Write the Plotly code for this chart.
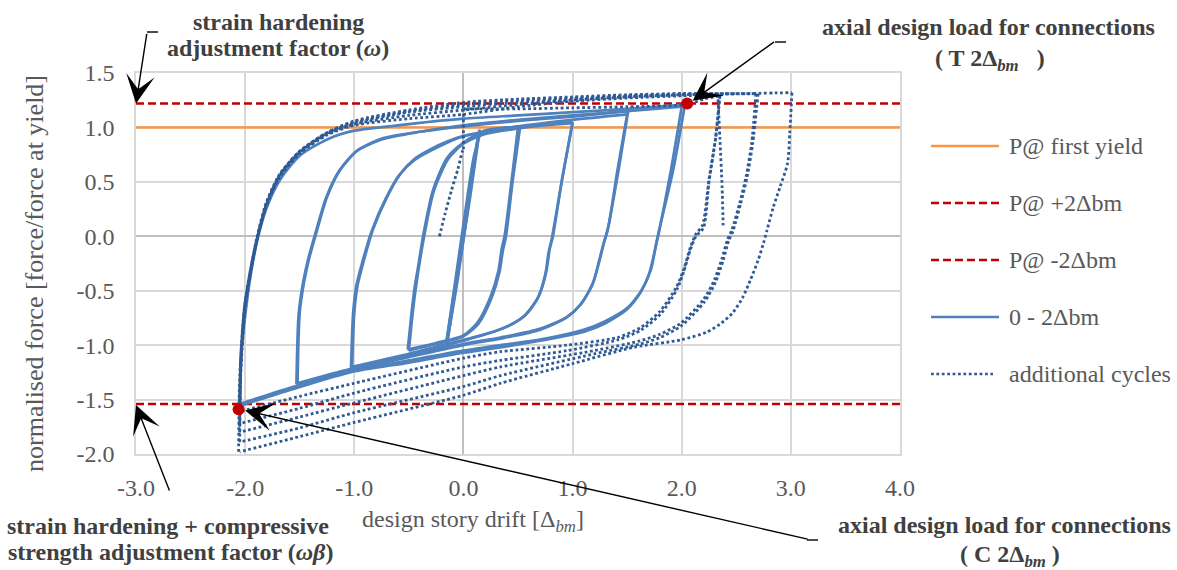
import plotly.graph_objects as go

# ---------------------------------------------------------------- axes
x_ticks = [-3.0, -2.0, -1.0, 0.0, 1.0, 2.0, 3.0, 4.0]
y_ticks = [-2.0, -1.5, -1.0, -0.5, 0.0, 0.5, 1.0, 1.5]

# ---------------------------------------------------------------- reference levels
first_yield = 1.0          # P @ first yield
p_plus_2bm = 1.22          # P @ +2Δbm  (strain hardening factor ω)
p_minus_2bm = -1.54        # P @ -2Δbm  (ωβ)
design_drift = [2.05, -2.06]
design_force = [1.22, -1.59]

# ---------------------------------------------------------------- 0 - 2Δbm protocol
# every branch is a list of (drift, normalised force) pairs in loading order
elastic_cycles = [
    [(0.0, 0.0), (0.07, 0.5), (0.15, 0.98)],
    [(0.15, 0.98), (0.06, 0.35), (-0.05, -0.35), (-0.15, -0.98)],
    [(-0.15, -0.98), (-0.05, -0.38), (0.05, 0.33), (0.14, 0.96)],
    [(0.14, 0.96), (0.04, 0.3), (-0.07, -0.42), (-0.16, -1.0)],
]
cycles_half = [
    [(-0.16, -1.0), (-0.08, -0.45), (0.02, 0.25), (0.1, 0.75), (0.17, 0.96), (0.3, 0.99), (0.42, 1.0), (0.5, 1.0)],
    [(0.5, 1.0), (0.44, 0.5), (0.38, 0.02), (0.35, -0.12), (0.32, -0.32), (0.25, -0.55), (0.13, -0.79),
     (0.0, -0.91), (-0.25, -0.98), (-0.51, -1.04)],
    [(-0.51, -1.04), (-0.48, -0.75), (-0.45, -0.49), (-0.41, -0.25), (-0.37, 0.0), (-0.28, 0.42), (-0.15, 0.72),
     (0.0, 0.86), (0.16, 0.95), (0.35, 0.99), (0.52, 1.01)],
    [(0.52, 1.01), (0.45, 0.5), (0.39, 0.0), (0.36, -0.14), (0.33, -0.33), (0.26, -0.56), (0.14, -0.8),
     (0.0, -0.92), (-0.25, -0.99), (-0.5, -1.05)],
]
cycles_one = [
    [(-0.5, -1.05), (-0.47, -0.75), (-0.44, -0.5), (-0.36, 0.0), (-0.27, 0.42), (-0.14, 0.71), (0.0, 0.85),
     (0.2, 0.94), (0.5, 0.99), (0.75, 1.02), (1.0, 1.04)],
    [(1.0, 1.04), (0.9, 0.5), (0.82, 0.0), (0.79, -0.12), (0.76, -0.32), (0.69, -0.55), (0.57, -0.72),
     (0.4, -0.83), (0.2, -0.9), (0.0, -0.95), (-0.5, -1.08), (-1.02, -1.2)],
    [(-1.02, -1.2), (-1.0, -0.7), (-0.97, -0.45), (-0.92, -0.25), (-0.83, 0.06), (-0.7, 0.36), (-0.58, 0.57),
     (-0.45, 0.71), (-0.3, 0.8), (-0.15, 0.87), (0.0, 0.92), (0.5, 1.0), (1.0, 1.05)],
    [(1.0, 1.05), (0.9, 0.5), (0.81, -0.02), (0.78, -0.15), (0.75, -0.35), (0.68, -0.57), (0.55, -0.74),
     (0.35, -0.85), (0.0, -0.96), (-0.5, -1.09), (-1.03, -1.21)],
]
cycles_one_half = [
    [(-1.03, -1.21), (-1.01, -0.7), (-0.98, -0.45), (-0.93, -0.25), (-0.84, 0.05), (-0.71, 0.35), (-0.59, 0.56),
     (-0.45, 0.7), (-0.15, 0.86), (0.0, 0.92), (0.5, 1.01), (1.0, 1.07), (1.5, 1.12)],
    [(1.5, 1.12), (1.41, 0.6), (1.33, 0.1), (1.29, -0.05), (1.26, -0.17), (1.19, -0.42), (1.08, -0.62),
     (0.95, -0.74), (0.7, -0.85), (0.34, -0.93), (0.0, -0.99), (-0.5, -1.1), (-1.04, -1.22), (-1.52, -1.35)],
    [(-1.52, -1.35), (-1.5, -0.7), (-1.46, -0.42), (-1.41, -0.19), (-1.34, 0.06), (-1.25, 0.36), (-1.13, 0.61),
     (-0.97, 0.79), (-0.74, 0.9), (-0.4, 0.96), (0.0, 1.01), (0.5, 1.06), (1.0, 1.1), (1.51, 1.15)],
    [(1.51, 1.15), (1.42, 0.6), (1.32, 0.05), (1.28, -0.08), (1.25, -0.2), (1.18, -0.45), (1.07, -0.63),
     (0.94, -0.75), (0.7, -0.86), (0.34, -0.94), (0.0, -1.0), (-0.5, -1.11), (-1.04, -1.23), (-1.53, -1.36)],
]
cycles_two = [
    [(-1.53, -1.36), (-1.51, -0.72), (-1.47, -0.43), (-1.42, -0.2), (-1.35, 0.05), (-1.26, 0.35), (-1.14, 0.6),
     (-0.98, 0.78), (-0.75, 0.89), (-0.4, 0.96), (0.0, 1.02), (0.5, 1.07), (1.0, 1.11), (1.5, 1.15), (2.0, 1.19)],
    [(2.0, 1.19), (1.9, 0.6), (1.79, 0.03), (1.76, -0.1), (1.72, -0.3), (1.63, -0.5), (1.5, -0.66), (1.3, -0.78),
     (1.1, -0.86), (0.7, -0.95), (0.34, -1.0), (0.0, -1.05), (-0.5, -1.14), (-1.04, -1.24), (-1.52, -1.37),
     (-2.05, -1.54)],
    [(-2.05, -1.54), (-2.03, -1.02), (-1.99, -0.65), (-1.94, -0.3), (-1.88, 0.0), (-1.8, 0.27), (-1.68, 0.52),
     (-1.5, 0.74), (-1.25, 0.89), (-1.0, 0.97), (-0.5, 1.03), (0.0, 1.08), (0.5, 1.11), (1.0, 1.14), (1.5, 1.17),
     (2.03, 1.21)],
    [(2.03, 1.21), (1.92, 0.6), (1.78, 0.0), (1.75, -0.15), (1.7, -0.35), (1.62, -0.52), (1.5, -0.67),
     (1.3, -0.8), (1.1, -0.88), (0.7, -0.96), (0.34, -1.02), (0.0, -1.07), (-0.5, -1.16), (-1.04, -1.25),
     (-1.52, -1.39), (-2.06, -1.56)],
]

# ---------------------------------------------------------------- additional cycles
extra_restart = [
    [(-0.22, 0.0), (-0.17, 0.2), (-0.11, 0.42), (-0.05, 0.62), (-0.01, 0.78), (0.0, 0.8)],
    [(0.0, 0.8), (0.0, 1.17)],
    [(0.0, 1.17), (0.5, 1.17), (1.0, 1.18), (1.5, 1.19), (2.05, 1.21), (2.2, 1.26), (2.35, 1.29)],
]
extra_235 = [
    [(2.35, 1.29), (2.31, 0.9), (2.25, 0.52), (2.19, 0.1), (2.13, 0.02), (2.08, -0.1), (2.02, -0.3),
     (1.95, -0.47), (1.8, -0.69), (1.62, -0.84), (1.41, -0.93), (0.95, -1.0), (0.34, -1.06), (0.0, -1.12),
     (-1.0, -1.35), (-1.5, -1.47), (-2.05, -1.61)],
    [(-2.05, -1.61), (-2.04, -1.1), (-2.0, -0.6), (-1.94, -0.25), (-1.88, 0.02), (-1.8, 0.3), (-1.68, 0.55),
     (-1.5, 0.76), (-1.25, 0.93), (-1.0, 1.02), (-0.5, 1.08), (0.0, 1.12), (0.5, 1.19), (1.0, 1.24),
     (1.5, 1.27), (2.0, 1.29), (2.35, 1.3)],
    [(2.35, 1.3), (2.31, 0.9), (2.25, 0.5), (2.2, 0.08), (2.13, 0.0), (2.08, -0.12), (2.02, -0.32),
     (1.96, -0.48), (1.81, -0.71), (1.63, -0.86), (1.42, -0.95), (0.95, -1.05), (0.34, -1.14), (0.0, -1.2),
     (-1.0, -1.44), (-1.5, -1.58), (-2.05, -1.72)],
]
extra_270 = [
    [(-2.05, -1.72), (-2.04, -1.15), (-2.0, -0.62), (-1.94, -0.26), (-1.88, 0.02), (-1.8, 0.3), (-1.68, 0.56),
     (-1.5, 0.77), (-1.25, 0.94), (-1.0, 1.03), (-0.5, 1.11), (0.0, 1.16), (0.5, 1.21), (1.0, 1.25),
     (1.5, 1.28), (2.0, 1.3), (2.4, 1.31), (2.68, 1.31)],
    [(2.68, 1.31), (2.64, 0.85), (2.59, 0.55), (2.53, 0.3), (2.46, 0.06), (2.42, -0.03), (2.37, -0.2),
     (2.3, -0.4), (2.2, -0.58), (1.99, -0.8), (1.8, -0.9), (1.62, -0.96), (1.2, -1.05), (0.34, -1.2),
     (0.0, -1.28), (-1.0, -1.53), (-1.5, -1.66), (-2.05, -1.8)],
    [(-2.05, -1.8), (-2.04, -1.2), (-2.0, -0.64), (-1.94, -0.27), (-1.88, 0.02), (-1.8, 0.31), (-1.68, 0.57),
     (-1.5, 0.78), (-1.25, 0.95), (-1.0, 1.04), (-0.5, 1.14), (0.0, 1.19), (0.5, 1.23), (1.0, 1.26),
     (1.5, 1.29), (2.0, 1.3), (2.7, 1.31)],
    [(2.7, 1.31), (2.65, 0.85), (2.6, 0.55), (2.54, 0.3), (2.47, 0.05), (2.43, -0.04), (2.38, -0.22),
     (2.31, -0.42), (2.21, -0.6), (2.0, -0.82), (1.8, -0.93), (1.62, -0.99), (1.2, -1.08), (0.34, -1.28),
     (0.0, -1.38), (-1.0, -1.62), (-1.5, -1.76), (-2.05, -1.89)],
]
extra_300 = [
    [(-2.05, -1.89), (-2.04, -1.25), (-2.0, -0.66), (-1.94, -0.28), (-1.88, 0.02), (-1.8, 0.31), (-1.68, 0.57),
     (-1.5, 0.78), (-1.25, 0.95), (-1.0, 1.05), (-0.5, 1.15), (0.0, 1.21), (0.5, 1.25), (1.0, 1.27),
     (1.5, 1.29), (2.0, 1.31), (2.5, 1.31), (3.01, 1.32)],
    [(3.01, 1.32), (2.99, 0.95), (2.97, 0.67), (2.9, 0.45), (2.84, 0.27), (2.78, 0.05), (2.75, -0.06),
     (2.7, -0.22), (2.63, -0.4), (2.56, -0.56), (2.47, -0.7), (2.36, -0.8), (2.23, -0.88), (2.0, -0.95),
     (1.56, -1.02), (1.0, -1.17), (0.34, -1.35), (0.0, -1.46), (-1.0, -1.71), (-1.5, -1.84), (-2.05, -1.98)],
    [(-2.06, -1.98), (-2.05, -1.3), (-2.01, -0.68), (-1.95, -0.3), (-1.89, 0.0), (-1.81, 0.3), (-1.69, 0.56),
     (-1.5, 0.78), (-1.25, 0.95), (-1.0, 1.06), (-0.5, 1.16), (0.0, 1.23), (0.5, 1.26), (1.0, 1.28),
     (1.5, 1.3), (2.0, 1.31), (2.33, 1.31)],
    [(2.33, 1.31), (2.35, 0.9), (2.37, 0.45), (2.38, 0.1)],
]

# ---------------------------------------------------------------- styling
SERIF = "Liberation Serif, Times New Roman, serif"
GREY_TEXT = "#595959"
NOTE_TEXT = "#404040"
ORANGE = "#F79646"
RED = "#C00000"
BLUE = "#4F81BD"
BLUE_DARK = "#2F5A93"
RED_DASH = "8px,4px"
DOT_DASH = "2.8px,2.6px"

fig = go.Figure()

x_lo, x_hi = x_ticks[0], x_ticks[-1]
for level, colour, dash in [(first_yield, ORANGE, "solid"),
                            (p_plus_2bm, RED, RED_DASH),
                            (p_minus_2bm, RED, RED_DASH)]:
    fig.add_trace(go.Scatter(x=[x_lo, x_hi], y=[level, level], mode="lines",
                             line=dict(color=colour, width=2.4, dash=dash),
                             showlegend=False, hoverinfo="skip"))


def add_branches(branches, colour, dash, width):
    for br in branches:
        fig.add_trace(go.Scatter(
            x=[p[0] for p in br], y=[p[1] for p in br], mode="lines",
            line=dict(color=colour, width=width, dash=dash, shape="spline", smoothing=0.7),
            showlegend=False, hoverinfo="skip"))


for group in (elastic_cycles, cycles_half, cycles_one, cycles_one_half, cycles_two):
    add_branches(group, BLUE, "solid", 2.7)
for group in (extra_restart, extra_235, extra_270, extra_300):
    add_branches(group, BLUE_DARK, DOT_DASH, 2.8)

fig.add_trace(go.Scatter(x=design_drift, y=design_force, mode="markers",
                         marker=dict(color=RED, size=12), showlegend=False, hoverinfo="skip"))

# ---------------------------------------------------------------- layout
L, R, T, B = 136, 277, 73, 116
W, H = 1177, 570
PW, PH = W - L - R, H - T - B


def px(xp):
    return (xp - L) / PW


def py(yp):
    return (H - B - yp) / PH


axis_common = dict(
    showgrid=True, gridcolor="#D9D9D9", gridwidth=1.6,
    zeroline=True, zerolinecolor="#BFBFBF", zerolinewidth=2,
    showline=True, linecolor="#D9D9D9", linewidth=1.6, mirror=True,
    ticks="", tickfont=dict(family=SERIF, size=24, color=GREY_TEXT),
)

fig.update_layout(
    width=W, height=H,
    margin=dict(l=L, r=R, t=T, b=B),
    paper_bgcolor="white", plot_bgcolor="white",
    showlegend=False,
    xaxis=dict(range=[x_lo, x_hi], tickvals=x_ticks, ticktext=[f"{v:.1f}" for v in x_ticks],
               ticklabelstandoff=11, **axis_common),
    yaxis=dict(range=[y_ticks[0], y_ticks[-1]], tickvals=y_ticks, ticktext=[f"{v:.1f}" for v in y_ticks],
               ticklabelstandoff=15, **axis_common),
)

ann = []
# axis titles
ann.append(dict(text="design story drift [Δ<sub><i>bm</i></sub>]", x=px(473), y=py(521),
                xref="paper", yref="paper", showarrow=False, xanchor="center", yanchor="middle",
                font=dict(family=SERIF, size=24, color=GREY_TEXT)))
ann.append(dict(text="normalised force [force/force at yield]", x=px(34), y=py(274), textangle=-90,
                xref="paper", yref="paper", showarrow=False, xanchor="center", yanchor="middle",
                font=dict(family=SERIF, size=26, color=GREY_TEXT)))

# legend (drawn by hand so the key lines match the series styles)
legend_rows = [("P@ first yield", ORANGE, "solid", 146, 999),
               ("P@ +2Δbm", RED, RED_DASH, 203, 999),
               ("P@ -2Δbm", RED, RED_DASH, 260, 999),
               ("0 - 2Δbm", BLUE, "solid", 317, 999),
               ("additional cycles", BLUE_DARK, DOT_DASH, 374, 993)]
shapes = []
for label, colour, dash, yrow, xend in legend_rows:
    shapes.append(dict(type="line", xref="paper", yref="paper", x0=px(931), x1=px(xend),
                       y0=py(yrow), y1=py(yrow), line=dict(color=colour, width=2.7, dash=dash)))
    ann.append(dict(text=label, x=px(1007), y=py(yrow), xref="paper", yref="paper", showarrow=False,
                    xanchor="left", yanchor="middle", font=dict(family=SERIF, size=24, color=GREY_TEXT)))

# call-out notes
note_font = dict(family=SERIF, size=24, color=NOTE_TEXT)
notes = [("<b>strain hardening</b>", 278, 22),
         ("<b>adjustment factor (<i>ω</i>)</b>", 278, 48),
         ("<b>axial design load for connections</b>", 988, 27),
         ("<b>( T 2Δ<sub><i>bm</i></sub>   )</b>", 990, 60),
         ("<b>strain hardening + compressive</b>", 168, 526),
         ("<b>strength adjustment factor (<i>ωβ</i>)</b>", 170, 552),
         ("<b>axial design load for connections</b>", 1004, 525),
         ("<b>( C 2Δ<sub><i>bm</i></sub> )</b>", 1010, 556)]
for text, xc, yc in notes:
    ann.append(dict(text=text, x=px(xc), y=py(yc), xref="paper", yref="paper", showarrow=False,
                    xanchor="center", yanchor="middle", font=note_font))

# arrows: tip position (data units) and tail offset in pixels
arrows = [(x_lo, p_plus_2bm, 11, -71),
          (2.1, 1.245, 83, -60),
          (x_lo, p_minus_2bm - 0.01, 34, 87),
          (-2.0, -1.6, 564, 129)]
for xa, ya, axo, ayo in arrows:
    ann.append(dict(text="", x=xa, y=ya, xref="x", yref="y", ax=axo, ay=ayo, axref="pixel", ayref="pixel",
                    showarrow=True, arrowhead=3, arrowsize=3.4, arrowwidth=1.4, arrowcolor="black"))
# short horizontal leaders on the arrow tails
for x0, x1, yl in [(147, 158, 32), (775, 786, 42), (807, 818, 540)]:
    shapes.append(dict(type="line", xref="paper", yref="paper", x0=px(x0), x1=px(x1),
                       y0=py(yl), y1=py(yl), line=dict(color="black", width=1.4)))

fig.update_layout(annotations=ann, shapes=shapes)
fig.write_html("out.html")
